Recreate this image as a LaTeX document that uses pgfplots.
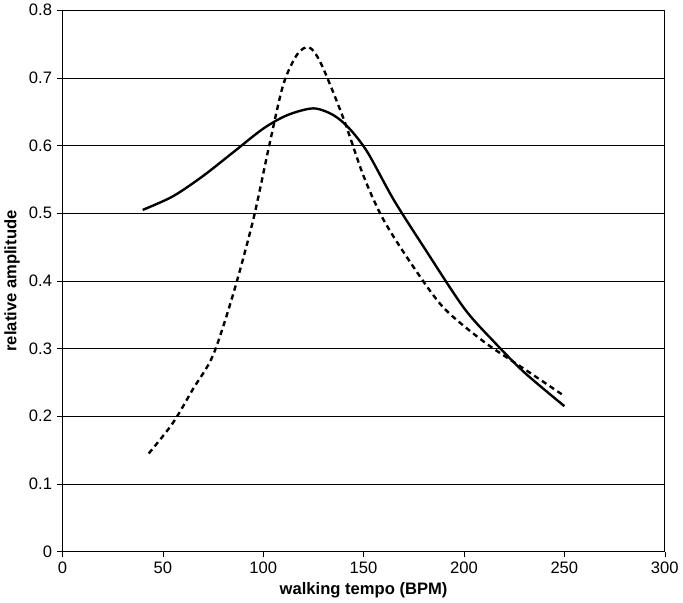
\documentclass[border=0pt]{standalone}
\usepackage{fontspec}
\setmainfont{Liberation Sans}
\usepackage{pgfplots}
\pgfplotsset{compat=1.18}
\begin{document}
\begin{tikzpicture}
\begin{axis}[
  width=454pt, height=408pt, scale only axis,
  xmin=0, xmax=300, ymin=0, ymax=0.8,
  xtick={0,50,...,300}, ytick={0,0.1,...,0.8},
  ymajorgrids, major grid style={black, line width=0.5pt},
  yticklabel style={/pgf/number format/.cd,fixed,precision=1},
  /pgf/number format/assume math mode=true,
  tick align=outside, tick style={black},
  xtick pos=bottom, ytick pos=left,
  ticklabel style={font=\fontsize{12.5}{14}\selectfont},
  xlabel={\bfseries walking tempo (BPM)},
  ylabel={\bfseries relative amplitude},
  label style={font=\fontsize{12.5}{14}\selectfont\bfseries},
]
\addplot[black, line width=1.8pt, smooth] coordinates {
(40,0.505) (55,0.525) (70,0.555) (85,0.59) (100,0.625) (112,0.645) (125,0.655) (135,0.645) (143,0.625) (152,0.59) (165,0.52) (180,0.45) (200,0.36) (215,0.31) (230,0.265) (250,0.215)};
\addplot[black, line width=1.8pt, dash pattern=on 4pt off 3pt, smooth] coordinates {
(43,0.145) (55,0.19) (65,0.24) (75,0.29) (85,0.38) (95,0.49) (103,0.6) (110,0.69) (117,0.735) (123,0.745) (129,0.72) (140,0.64) (150,0.555) (160,0.49) (175,0.42) (190,0.36) (210,0.31) (230,0.27) (250,0.23)};
\end{axis}
\end{tikzpicture}
\end{document}
